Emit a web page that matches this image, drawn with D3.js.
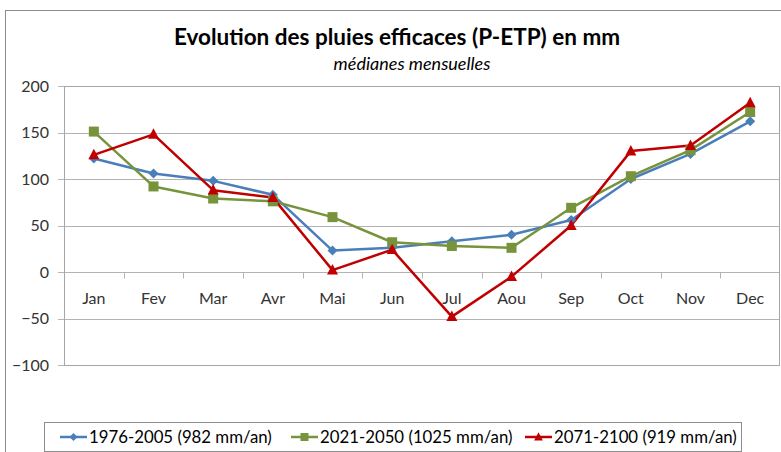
<!DOCTYPE html>
<html><head><meta charset="utf-8">
<script src="https://cdn.jsdelivr.net/npm/d3@7"></script>
<style>body{margin:0;background:#fff}svg{display:block}</style>
</head><body>
<svg id="c" width="781" height="452"></svg>
<script>
const months = ["Jan","Fev","Mar","Avr","Mai","Jun","Jul","Aou","Sep","Oct","Nov","Dec"];
const s1976 = [122,106,98,83,23,26,33,40,56,100,127,162];
const s2021 = [151,92,79,76,59,32,28,26,69,103,131,172];
const s2071 = [126,148,88,80,2,24,-48,-5,50,130,136,182];
const seriesNames = ["1976-2005 (982 mm/an)","2021-2050 (1025 mm/an)","2071-2100 (919 mm/an)"];
const yTicks = [-100,-50,0,50,100,150,200];
const colors = ["#4a7ebb","#77933c","#c00000"];
const shapes = ["diamond","square","triangle"];

const svg = d3.select("#c");
const FONT = "Lato, 'Open Sans', sans-serif";
// outer chart border
svg.append("rect").attr("x",5.5).attr("y",10.5).attr("width",800).attr("height",460)
  .attr("fill","#fff").attr("stroke","#8c8c8c").attr("stroke-width",1);

const L=64, R=780, T=86, B=365;
const x = d3.scaleBand().domain(months).range([L,R]);
const y = d3.scaleLinear().domain([-100,200]).range([B,T]);

// gridlines
const g = svg.append("g");
g.selectAll("line.grid").data(yTicks).join("line")
  .attr("x1",L-6).attr("x2",R).attr("y1",d=>Math.round(y(d))+0.5).attr("y2",d=>Math.round(y(d))+0.5)
  .attr("stroke","#b3b3b3").attr("stroke-width",1);
// plot border
svg.append("rect").attr("x",L+0.5).attr("y",T+0.5).attr("width",R-L-1).attr("height",B-T)
  .attr("fill","none").attr("stroke","#a6a6a6");
// y labels
const yAxis = d3.axisLeft(y).tickValues(yTicks).tickSize(0).tickPadding(15);
const ya = svg.append("g").attr("transform",`translate(${L},0)`).call(yAxis);
ya.select(".domain").remove();
ya.selectAll("text").attr("font-family",FONT).attr("font-size",16).attr("fill","#333");

// x axis at zero
const y0 = Math.round(y(0))+0.5;
const bounds = months.map(m=>x(m)).concat([R]);
svg.selectAll("line.xt").data(bounds.slice(1,12)).join("line")
  .attr("x1",d=>Math.round(d)+0.5).attr("x2",d=>Math.round(d)+0.5).attr("y1",y0).attr("y2",y0+6)
  .attr("stroke","#b3b3b3");
svg.selectAll("text.xl").data(months).join("text")
  .attr("x",d=>x(d)+x.bandwidth()/2).attr("y",y0+31)
  .attr("text-anchor","middle").attr("font-family",FONT).attr("font-size",16).attr("fill","#333")
  .text(d=>d);

// series
const data=[s1976,s2021,s2071];
const line = d3.line().x((d,i)=>x(months[i])+x.bandwidth()/2).y(d=>y(d));
function marker(sel, shape, color, cx, cy, scale){
  scale = scale||1;
  if(shape==="diamond"){
    const s=5*scale;
    sel.append("path").attr("d",`M${cx},${cy-s}L${cx+s},${cy}L${cx},${cy+s}L${cx-s},${cy}Z`).attr("fill",color);
  } else if(shape==="square"){
    const s=5*scale;
    sel.append("rect").attr("x",cx-s).attr("y",cy-s).attr("width",2*s).attr("height",2*s).attr("fill",color);
  } else {
    const s=5.5*scale;
    sel.append("path").attr("d",`M${cx},${cy-s*1.1}L${cx+s},${cy+s*0.8}L${cx-s},${cy+s*0.8}Z`).attr("fill",color);
  }
}
data.forEach((vals,k)=>{
  svg.append("path").datum(vals).attr("d",line).attr("fill","none")
    .attr("stroke",colors[k]).attr("stroke-width",2.5).attr("stroke-linejoin","round");
});
data.forEach((vals,k)=>{
  const mg=svg.append("g");
  vals.forEach((v,i)=>marker(mg,shapes[k],colors[k],x(months[i])+x.bandwidth()/2,y(v)));
});

// title
svg.append("text").attr("x",397).attr("y",45).attr("text-anchor","middle")
  .attr("font-family",FONT).attr("font-weight","bold").attr("font-size",22.5).attr("fill","#000")
  .text("Evolution des pluies efficaces (P-ETP) en mm");
svg.append("text").attr("x",412).attr("y",70).attr("text-anchor","middle")
  .attr("font-family",FONT).attr("font-style","italic").attr("font-size",18).attr("fill","#000")
  .text("médianes mensuelles");

// legend
svg.append("rect").attr("x",44.5).attr("y",422.5).attr("width",697).attr("height",29)
  .attr("fill","#fff").attr("stroke","#8c8c8c");
const legX=[60,291,525];
seriesNames.forEach((n,k)=>{
  const lg=svg.append("g");
  lg.append("line").attr("x1",legX[k]).attr("x2",legX[k]+27).attr("y1",437).attr("y2",437)
    .attr("stroke",colors[k]).attr("stroke-width",2.5);
  marker(lg,shapes[k],colors[k],legX[k]+13.5,437,0.8);
  lg.append("text").attr("x",legX[k]+29).attr("y",443).attr("font-family",FONT)
    .attr("font-size",16.8).attr("fill","#000").text(n);
});
</script>
</body></html>
